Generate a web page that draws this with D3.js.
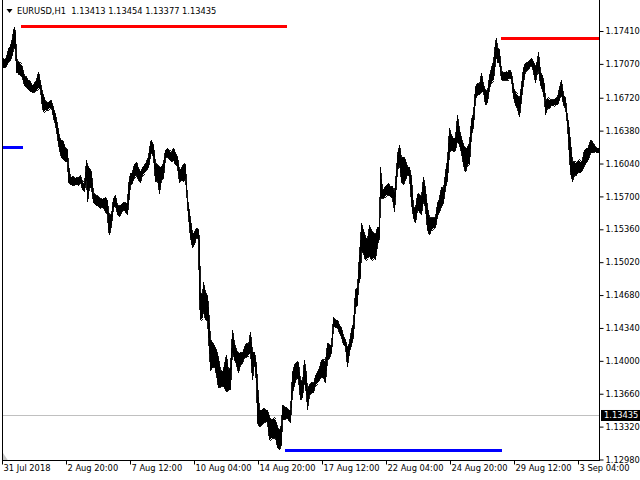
<!DOCTYPE html>
<html><head><meta charset="utf-8">
<script src="https://cdn.jsdelivr.net/npm/d3@7"></script>
<style>
body{margin:0;background:#fff}
svg{display:block}
text{font-family:"DejaVu Sans",sans-serif;font-size:8.3px;fill:#000}
</style>
</head><body>
<svg id="c" width="640" height="480"></svg>
<script>
// ---- data (EURUSD H1: bar index, high, low) ----
const barIndex = [0,2,4,6,8,10,11,12,13,14,15,17,19,20,22,24,26,28,30,32,34,36,38,40,41,43,45,47,49,51,53,55,57,59,61,63,65,66,68,70,72,74,76,78,80,82,84,85,87,89,91,93,95,97,99,101,103,105,106,107,109,111,113,115,117,119,121,123,125,126,128,130,132,134,136,138,140,142,144,146,148,149,151,153,155,157,159,161,163,165,167,169,171,173,175,177,179,181,183,185,186,188,190,192,194,196,197,198,200,201,203,205,206,208,210,212,214,216,218,220,222,224,226,228,230,232,234,236,238,240,242,244,246,248,250,252,254,255,257,259,261,263,265,267,269,271,273,275,277,279,280,282,284,286,288,290,292,294,296,298,300,302,304,305,307,309,311,313,315,317,319,321,323,325,327,329,331,333,335,337,339,341,343,345,347,349,351,353,355,356,358,359,361,363,365,367,369,371,373,375,377,378,380,382,384,386,388,390,392,394,395,397,399,401,403,405,407,409,411,413,415,417,419,421,423,425,427,429,431,433,435,437,439,441,443,445,447,449,451,453,455,457,459,461,463,465,467,469,471,473,475,477,479,481,483,485,487,489,491,493,494,495,497,499,501,503,505,507,509,511,513,515,517,519,521,523,525,527,529,531,533,535,536,538,540,542,543,545,547,549,551,553,555,557,559,561,563,565,566,568,570,572,574,576,578,580,582,584,586,588,590,592,594,596];
const highs = [1.1713,1.1711,1.1714,1.1723,1.1726,1.1734,1.1742,1.1745,1.1740,1.1716,1.1709,1.1708,1.1706,1.1703,1.1694,1.1693,1.1690,1.1688,1.1684,1.1687,1.1690,1.1699,1.1688,1.1677,1.1675,1.1668,1.1667,1.1669,1.1669,1.1661,1.1655,1.1644,1.1631,1.1628,1.1626,1.1620,1.1618,1.1602,1.1590,1.1591,1.1589,1.1590,1.1589,1.1592,1.1585,1.1583,1.1608,1.1602,1.1599,1.1595,1.1573,1.1571,1.1570,1.1568,1.1567,1.1568,1.1569,1.1566,1.1554,1.1551,1.1551,1.1568,1.1571,1.1561,1.1560,1.1562,1.1564,1.1563,1.1563,1.1582,1.1594,1.1595,1.1604,1.1606,1.1599,1.1595,1.1600,1.1602,1.1606,1.1611,1.1626,1.1628,1.1623,1.1604,1.1602,1.1600,1.1601,1.1604,1.1618,1.1620,1.1617,1.1615,1.1620,1.1615,1.1611,1.1597,1.1599,1.1604,1.1602,1.1568,1.1561,1.1546,1.1532,1.1533,1.1537,1.1535,1.1525,1.1471,1.1468,1.1481,1.1471,1.1467,1.1456,1.1422,1.1419,1.1416,1.1411,1.1403,1.1390,1.1388,1.1396,1.1406,1.1390,1.1393,1.1432,1.1418,1.1411,1.1408,1.1409,1.1408,1.1414,1.1418,1.1416,1.1430,1.1409,1.1409,1.1396,1.1377,1.1349,1.1349,1.1351,1.1349,1.1349,1.1342,1.1339,1.1341,1.1339,1.1332,1.1328,1.1334,1.1354,1.1352,1.1352,1.1349,1.1349,1.1388,1.1396,1.1399,1.1398,1.1380,1.1378,1.1401,1.1385,1.1370,1.1375,1.1378,1.1376,1.1385,1.1388,1.1393,1.1401,1.1401,1.1399,1.1418,1.1416,1.1416,1.1445,1.1442,1.1442,1.1437,1.1434,1.1425,1.1422,1.1413,1.1419,1.1432,1.1439,1.1473,1.1476,1.1494,1.1525,1.1542,1.1535,1.1528,1.1525,1.1540,1.1535,1.1532,1.1530,1.1538,1.1538,1.1600,1.1577,1.1579,1.1582,1.1584,1.1580,1.1581,1.1573,1.1597,1.1613,1.1623,1.1610,1.1611,1.1608,1.1600,1.1600,1.1589,1.1559,1.1558,1.1573,1.1571,1.1569,1.1590,1.1577,1.1558,1.1548,1.1548,1.1548,1.1548,1.1563,1.1568,1.1580,1.1577,1.1595,1.1608,1.1641,1.1633,1.1630,1.1631,1.1654,1.1639,1.1630,1.1623,1.1620,1.1621,1.1625,1.1649,1.1656,1.1683,1.1687,1.1685,1.1698,1.1685,1.1680,1.1678,1.1695,1.1703,1.1709,1.1729,1.1734,1.1723,1.1721,1.1699,1.1698,1.1699,1.1698,1.1701,1.1698,1.1683,1.1677,1.1675,1.1670,1.1685,1.1703,1.1708,1.1708,1.1711,1.1713,1.1709,1.1704,1.1711,1.1719,1.1699,1.1695,1.1685,1.1668,1.1672,1.1670,1.1670,1.1670,1.1672,1.1672,1.1682,1.1690,1.1675,1.1672,1.1651,1.1647,1.1626,1.1606,1.1606,1.1604,1.1608,1.1606,1.1608,1.1618,1.1620,1.1621,1.1628,1.1626,1.1623,1.1620,1.1620];
const lows = [1.1703,1.1703,1.1705,1.1709,1.1711,1.1716,1.1723,1.1726,1.1721,1.1698,1.1698,1.1695,1.1694,1.1692,1.1684,1.1683,1.1680,1.1678,1.1677,1.1678,1.1680,1.1682,1.1680,1.1661,1.1657,1.1659,1.1659,1.1661,1.1662,1.1651,1.1644,1.1631,1.1618,1.1610,1.1608,1.1606,1.1606,1.1585,1.1582,1.1581,1.1582,1.1582,1.1581,1.1585,1.1577,1.1575,1.1589,1.1564,1.1579,1.1579,1.1563,1.1561,1.1560,1.1558,1.1559,1.1558,1.1554,1.1551,1.1535,1.1530,1.1540,1.1558,1.1561,1.1551,1.1549,1.1553,1.1556,1.1554,1.1551,1.1561,1.1582,1.1584,1.1590,1.1592,1.1587,1.1584,1.1592,1.1594,1.1597,1.1600,1.1611,1.1616,1.1611,1.1585,1.1587,1.1573,1.1587,1.1589,1.1610,1.1611,1.1608,1.1606,1.1608,1.1602,1.1600,1.1584,1.1587,1.1585,1.1589,1.1561,1.1549,1.1527,1.1517,1.1520,1.1528,1.1525,1.1463,1.1442,1.1444,1.1453,1.1442,1.1442,1.1424,1.1390,1.1393,1.1395,1.1385,1.1372,1.1373,1.1374,1.1372,1.1368,1.1370,1.1370,1.1411,1.1401,1.1396,1.1387,1.1396,1.1398,1.1403,1.1404,1.1406,1.1409,1.1380,1.1399,1.1377,1.1336,1.1332,1.1334,1.1336,1.1337,1.1336,1.1318,1.1320,1.1320,1.1321,1.1310,1.1308,1.1313,1.1339,1.1339,1.1341,1.1339,1.1336,1.1367,1.1375,1.1382,1.1380,1.1359,1.1362,1.1380,1.1365,1.1349,1.1365,1.1367,1.1367,1.1375,1.1377,1.1380,1.1383,1.1382,1.1377,1.1401,1.1403,1.1408,1.1435,1.1434,1.1434,1.1429,1.1425,1.1416,1.1414,1.1394,1.1409,1.1416,1.1425,1.1456,1.1458,1.1478,1.1487,1.1515,1.1511,1.1504,1.1506,1.1509,1.1504,1.1506,1.1504,1.1520,1.1527,1.1568,1.1568,1.1569,1.1571,1.1571,1.1569,1.1568,1.1554,1.1584,1.1597,1.1604,1.1585,1.1582,1.1587,1.1592,1.1590,1.1563,1.1548,1.1542,1.1556,1.1554,1.1551,1.1566,1.1558,1.1535,1.1530,1.1535,1.1537,1.1538,1.1549,1.1554,1.1559,1.1563,1.1579,1.1587,1.1615,1.1618,1.1616,1.1618,1.1628,1.1623,1.1615,1.1602,1.1595,1.1602,1.1604,1.1633,1.1642,1.1670,1.1675,1.1675,1.1678,1.1678,1.1664,1.1667,1.1682,1.1688,1.1690,1.1709,1.1716,1.1708,1.1708,1.1690,1.1690,1.1690,1.1690,1.1692,1.1690,1.1673,1.1664,1.1661,1.1652,1.1670,1.1688,1.1699,1.1701,1.1703,1.1706,1.1699,1.1687,1.1699,1.1701,1.1685,1.1680,1.1670,1.1654,1.1661,1.1661,1.1664,1.1663,1.1665,1.1664,1.1670,1.1675,1.1665,1.1661,1.1644,1.1626,1.1595,1.1585,1.1592,1.1592,1.1595,1.1594,1.1597,1.1602,1.1605,1.1608,1.1615,1.1615,1.1616,1.1615,1.1615];

const priceTicks = [1.17410,1.17070,1.16720,1.16380,1.16040,1.15700,1.15360,1.15020,1.14680,1.14340,1.14000,1.13660,1.13320,1.12980];
const timeTickIndex = [0,64,128,192,256,320,384,448,512,576];
const timeTickLabels = ["31 Jul 2018","2 Aug 20:00","7 Aug 12:00","10 Aug 04:00","14 Aug 20:00","17 Aug 12:00","22 Aug 04:00","24 Aug 20:00","29 Aug 12:00","3 Sep 04:00"];

const levelPrices = [1.17458,1.17334,1.16208,1.13075];
const levelFrom = [19,499,0,283];
const levelTo = [285,597,21,500];
const levelKind = ["high","high","low","low"];

const bidPrice = 1.13435;
const titleText = "EURUSD,H1  1.13413 1.13454 1.13377 1.13435";

// ---- drawing ----
const svg = d3.select("#c");
const left = 2, right = 599, bottom = 460.5;
const x = d3.scaleLinear().domain([0, 597]).range([left, right]);
const y = d3.scaleLinear().domain([1.12980, 1.17410]).range([459.5, 31]);

// bid line
svg.append("line")
  .attr("x1", left).attr("x2", right)
  .attr("y1", Math.round(y(bidPrice)) + 0.5).attr("y2", Math.round(y(bidPrice)) + 0.5)
  .attr("stroke", "#c0c0c0").attr("stroke-width", 1);

// level lines
const levelColor = {high: "#ff0000", low: "#0000ff"};
svg.append("g").selectAll("line").data(levelPrices).join("line")
  .attr("x1", (d, i) => x(levelFrom[i]))
  .attr("x2", (d, i) => x(levelTo[i]))
  .attr("y1", d => y(d)).attr("y2", d => y(d))
  .attr("stroke", (d, i) => levelColor[levelKind[i]])
  .attr("stroke-width", 3)
  .attr("shape-rendering", "crispEdges");

// price band (high-low of the bars)
const idx = d3.range(barIndex.length);
const area = d3.area()
  .x(i => x(barIndex[i]) + 0.5)
  .y0(i => y(lows[i]))
  .y1(i => y(highs[i]));
svg.append("path").datum(idx)
  .attr("d", area)
  .attr("fill", "#000").attr("stroke", "#000").attr("stroke-width", 0.9)
  .attr("shape-rendering", "crispEdges");
// the bars themselves (1 px high-low sticks)
svg.append("g").selectAll("line").data(idx).join("line")
  .attr("x1", i => x(barIndex[i]) + 0.5).attr("x2", i => x(barIndex[i]) + 0.5)
  .attr("y1", i => y(highs[i])).attr("y2", i => y(lows[i]))
  .attr("stroke", "#000").attr("stroke-width", 1)
  .attr("shape-rendering", "crispEdges");

// shift marker
svg.append("path").attr("d", `M${left+1},453 L${left+1},${bottom} L${left+6},${bottom} Z`).attr("fill", "#c8c8c8");

// frame
svg.append("line").attr("x1", left + 0.5).attr("x2", left + 0.5).attr("y1", 0).attr("y2", bottom).attr("stroke", "#000");
svg.append("line").attr("x1", right + 0.5).attr("x2", right + 0.5).attr("y1", 0).attr("y2", bottom + 0.5).attr("stroke", "#000");
svg.append("line").attr("x1", left).attr("x2", right + 1).attr("y1", bottom).attr("y2", bottom).attr("stroke", "#000");

// y axis
const yAxis = d3.axisRight(y).tickValues(priceTicks).tickFormat(d3.format(".5f")).tickSize(4).tickSizeOuter(0).tickPadding(2);
const gy = svg.append("g").attr("transform", `translate(${right + 0.5},0)`).call(yAxis);
gy.select(".domain").remove();
gy.selectAll("text").style("font-family", '"DejaVu Sans",sans-serif').style("font-size", "8.3px").attr("fill", "#000");
gy.selectAll("line").attr("stroke", "#000");

// x axis
const xAxis = d3.axisBottom(x).tickValues(timeTickIndex).tickFormat((d, i) => timeTickLabels[i]).tickSize(4).tickSizeOuter(0);
const gx = svg.append("g").attr("transform", `translate(0,${bottom})`).call(xAxis);
gx.select(".domain").remove();
gx.selectAll("text").attr("text-anchor", "start").attr("dx", "1").attr("y", 5)
  .style("font-family", '"DejaVu Sans",sans-serif').style("font-size", "8.3px").attr("fill", "#000");
gx.selectAll("line").attr("stroke", "#000");

// bid label
const by = y(bidPrice);
svg.append("rect").attr("x", right + 2).attr("y", by - 5.5).attr("width", 40).attr("height", 11).attr("fill", "#000");
svg.append("text").attr("x", right + 5).attr("y", by).attr("dy", "0.35em")
  .style("fill", "#fff").text(d3.format(".5f")(bidPrice));

// title
svg.append("path").attr("d", "M6.5,9 L12.5,9 L9.5,13 Z").attr("fill", "#000");
svg.append("text").attr("x", 17).attr("y", 11).attr("dy", "0.35em")
  .attr("xml:space", "preserve").style("white-space", "pre").text(titleText);
</script>
</body></html>
